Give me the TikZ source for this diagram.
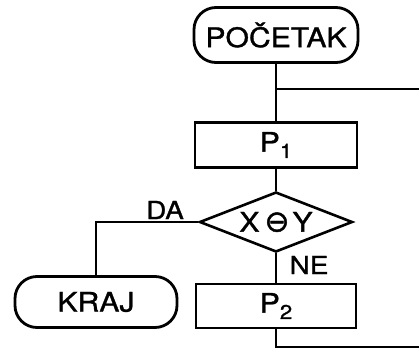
\documentclass[tikz,border=0pt]{standalone}
\usepackage{fontspec}
\newfontfamily\lettering[FakeStretch=1.12, FakeBold=1.2]{TeX Gyre Heros}
\newfontfamily\symfont[FakeBold=1.5]{DejaVu Sans}
\usetikzlibrary{shapes,positioning}

\newcommand{\idx}[1]{\raisebox{-0.45ex}{\fontsize{20}{20}\selectfont #1}}

\begin{document}
\begin{tikzpicture}[x=1bp, y=-1bp,
    every node/.style={font=\lettering\fontsize{27}{27}\selectfont},
    terminal/.style={draw, line width=2.8bp, rounded corners=22bp, minimum width=164bp, minimum height=55bp},
    process/.style={draw, line width=2.8bp, minimum width=162bp, minimum height=45bp},
    decision/.style={draw, diamond, line width=2.6bp, aspect=2.5, inner sep=0pt, minimum width=153bp, minimum height=60bp},
    answer/.style={font=\lettering\fontsize{25}{25}\selectfont},
    flow/.style={line width=1.8bp}]
    \useasboundingbox (0,0) rectangle (419,352);

    % Draw boxes
    \node[terminal] (start) at (276,35) {POČETAK};
    \node[process] (p1) at (276,145) {P\idx{1}};
    \node[decision] (test) at (276,222) {X\hspace{5bp}{\symfont\fontsize{30}{30}\selectfont ⊖}\hspace{3bp}Y};
    \node[process, minimum height=44bp, minimum width=160bp] (p2) at (276,306) {P\idx{2}};
    \node[terminal, minimum width=162bp, minimum height=51bp] (stop) at (96,302) {KRAJ};

    % Loop points
    \coordinate (join) at (276,89);
    \coordinate (back) at (419,89);
    \coordinate (turn) at (276,347);
    \coordinate (out) at (419,347);

    % Draw connecting lines
    \draw[flow] (start) -- (join) -- (p1);
    \draw[flow] (join) -- (back);
    \draw[flow] (p1) -- (test);
    \draw[flow] (test.west) -| (stop.north);
    \draw[flow] (test.south) -- (p2.north);
    \draw[flow] (p2.south) -- (turn) -- (out);

    % Answers
    \node[answer] (yes) at (165,210) {DA};
    \node[answer] (no) at (309,265) {NE};
\end{tikzpicture}
\end{document}
